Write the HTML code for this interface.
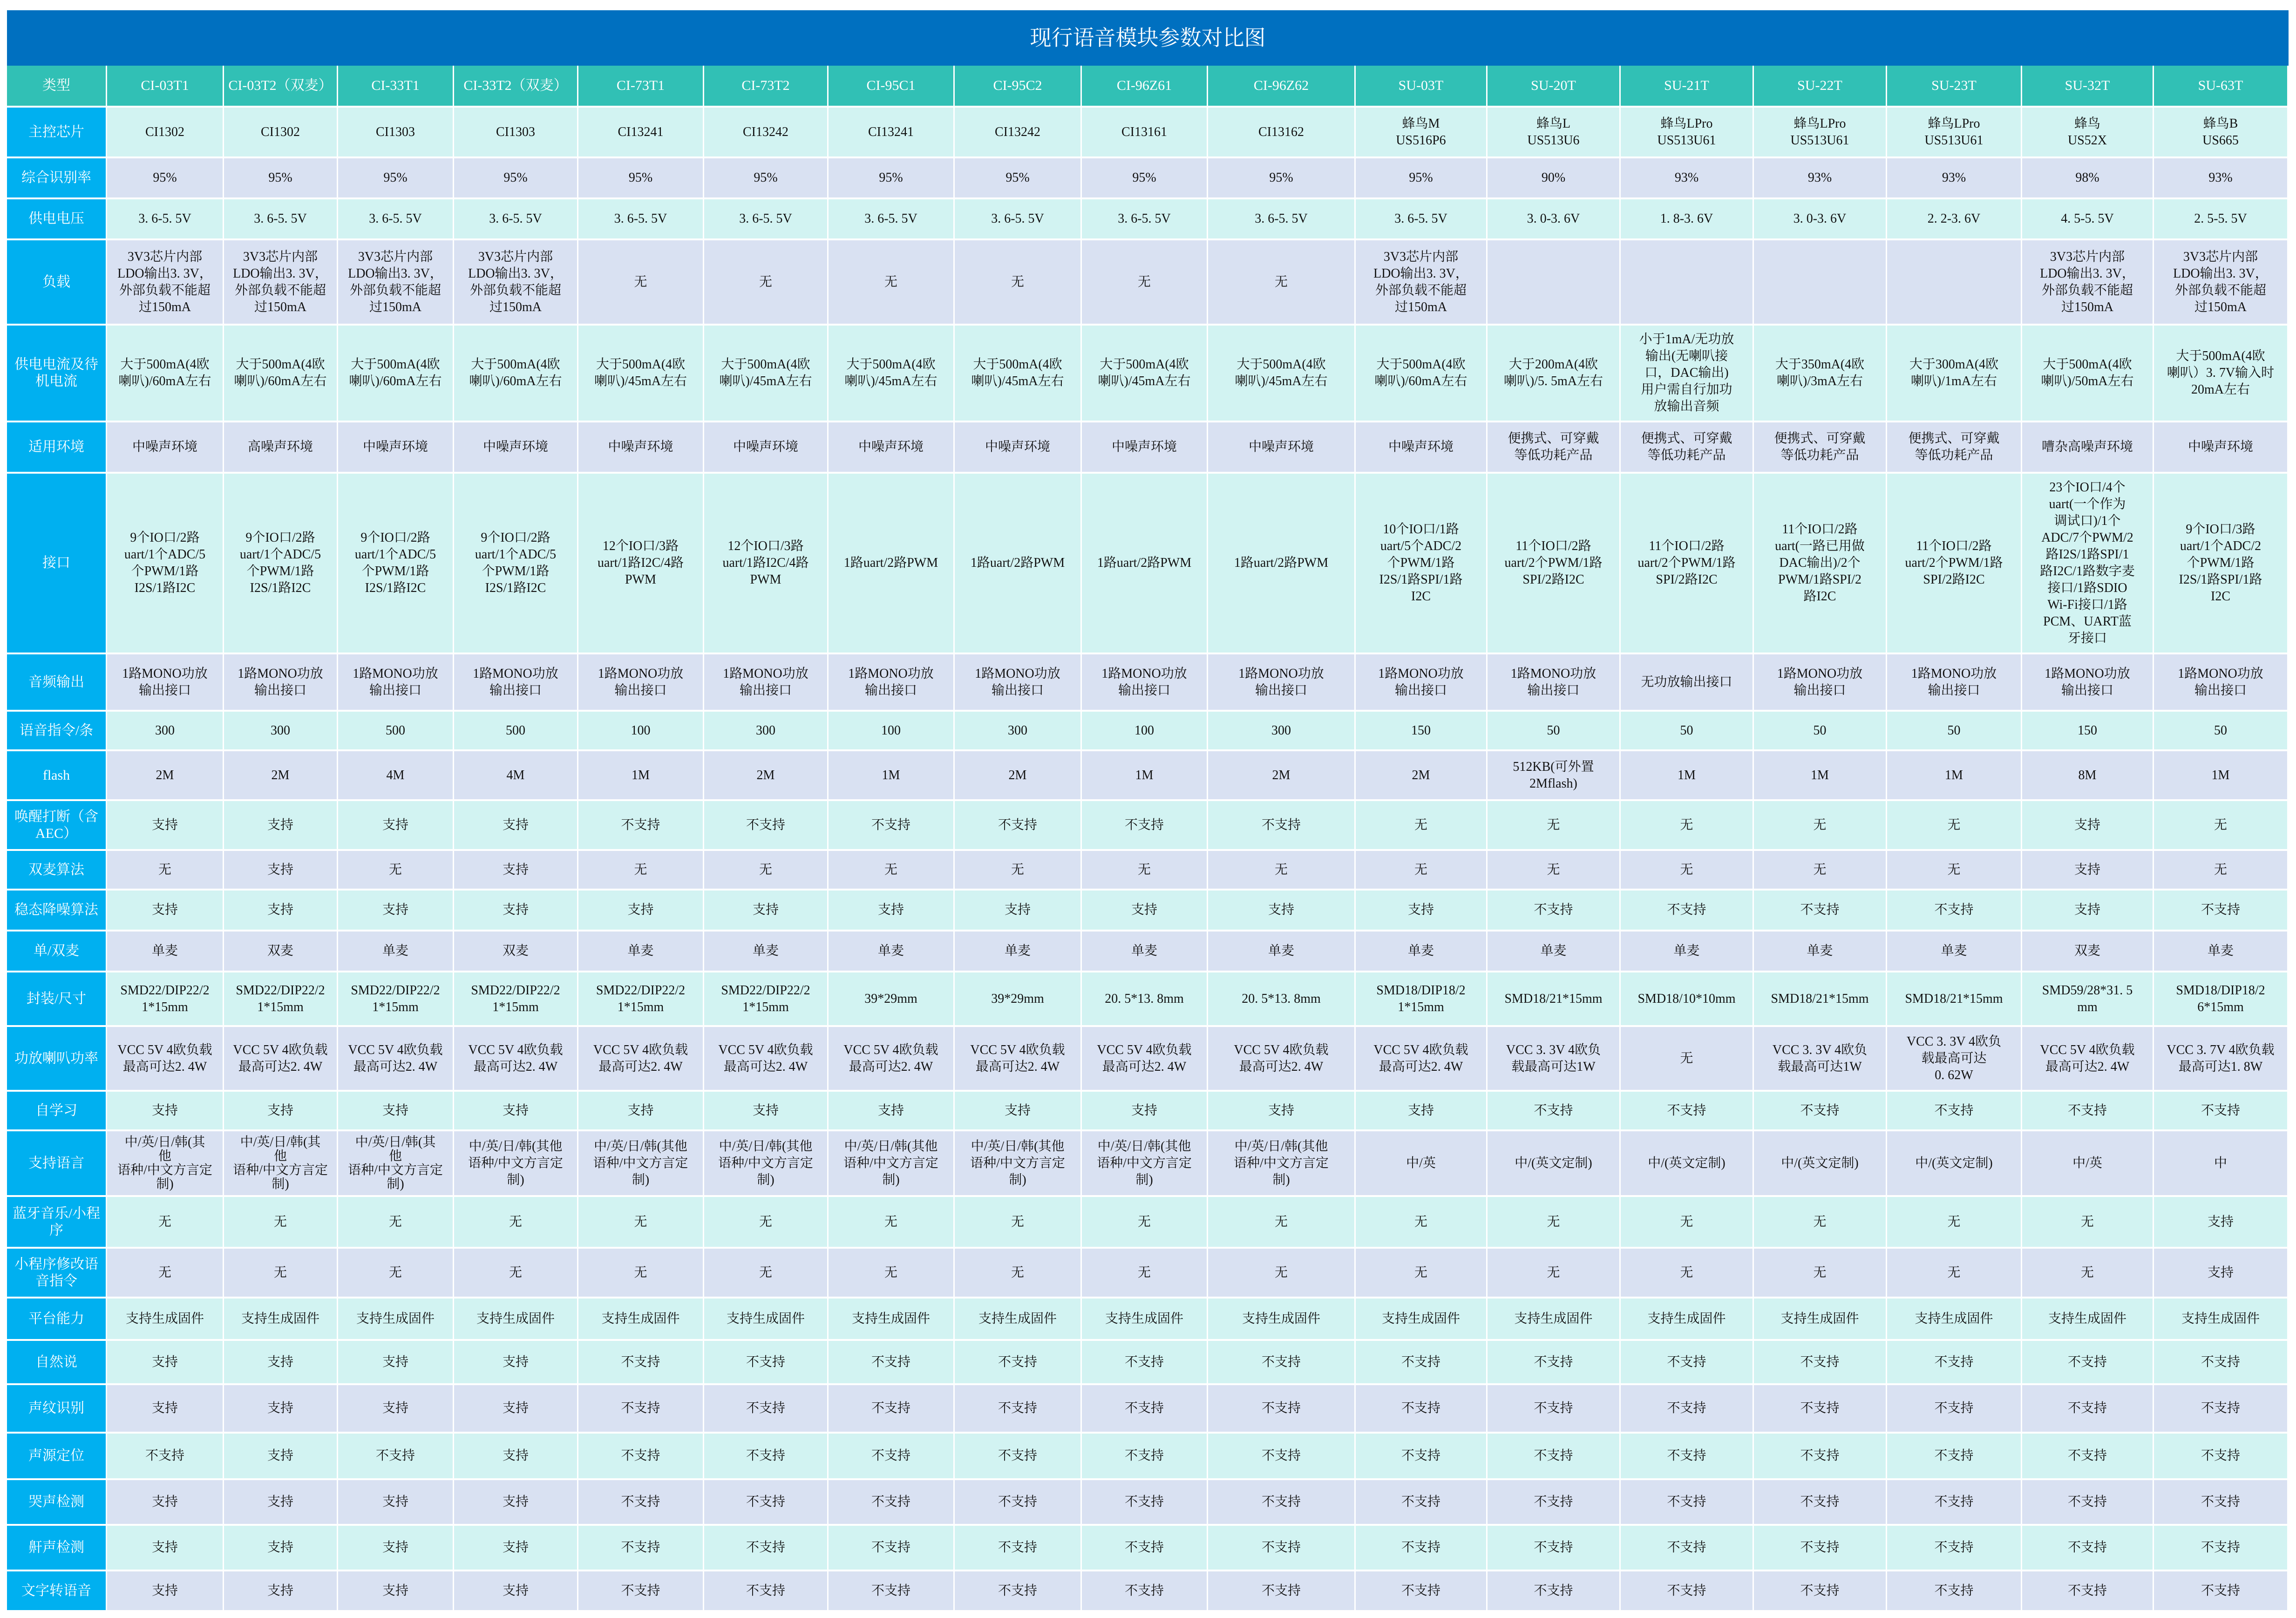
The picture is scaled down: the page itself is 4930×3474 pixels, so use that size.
<!DOCTYPE html>
<html><head><meta charset="utf-8">
<style>
html,body{margin:0;padding:0;background:#fff;}
body{width:4930px;height:3474px;position:relative;overflow:hidden;font-family:"Liberation Serif","Noto Serif CJK SC",serif;}
#title{position:absolute;left:15px;top:22px;width:4899px;height:119px;background:#0070C0;color:#fff;font-size:46px;text-align:center;line-height:119px;font-family:"Liberation Serif","Noto Serif CJK SC",serif;}
table{position:absolute;left:15px;top:141px;width:4899px;border-collapse:separate;border-spacing:0;table-layout:fixed;}
td{border-right:3px solid #fff;border-bottom:4px solid #fff;text-align:center;vertical-align:middle;font-size:28px;line-height:36px;color:#111;padding:0 2px;white-space:nowrap;overflow:hidden;box-sizing:border-box;}
td:first-child{background:#00B0F0;color:#fff;font-size:30px;}
tr.h td{background:#31C0B5;color:#fff;font-size:30px;}
tr.c td{background:#D2F3F2;}
tr.l td{background:#D9E1F2;}
tr.c td:first-child,tr.l td:first-child{background:#00B0F0;}
</style></head><body>
<div id="title">现行语音模块参数对比图</div>
<table>
<colgroup><col style="width:215px"><col style="width:251px"><col style="width:245px"><col style="width:249px"><col style="width:267px"><col style="width:270px"><col style="width:267px"><col style="width:271px"><col style="width:273px"><col style="width:271px"><col style="width:317px"><col style="width:283px"><col style="width:286px"><col style="width:286px"><col style="width:286px"><col style="width:290px"><col style="width:283px"><col style="width:289px"></colgroup>
<tr class="h" style="height:90px"><td>类型</td><td>CI-03T1</td><td>CI-03T2（双麦）</td><td>CI-33T1</td><td>CI-33T2（双麦）</td><td>CI-73T1</td><td>CI-73T2</td><td>CI-95C1</td><td>CI-95C2</td><td>CI-96Z61</td><td>CI-96Z62</td><td>SU-03T</td><td>SU-20T</td><td>SU-21T</td><td>SU-22T</td><td>SU-23T</td><td>SU-32T</td><td>SU-63T</td></tr>
<tr class="c" style="height:109px"><td>主控芯片</td><td>CI1302</td><td>CI1302</td><td>CI1303</td><td>CI1303</td><td>CI13241</td><td>CI13242</td><td>CI13241</td><td>CI13242</td><td>CI13161</td><td>CI13162</td><td>蜂鸟M<br>US516P6</td><td>蜂鸟L<br>US513U6</td><td>蜂鸟LPro<br>US513U61</td><td>蜂鸟LPro<br>US513U61</td><td>蜂鸟LPro<br>US513U61</td><td>蜂鸟<br>US52X</td><td>蜂鸟B<br>US665</td></tr>
<tr class="l" style="height:88px"><td>综合识别率</td><td>95%</td><td>95%</td><td>95%</td><td>95%</td><td>95%</td><td>95%</td><td>95%</td><td>95%</td><td>95%</td><td>95%</td><td>95%</td><td>90%</td><td>93%</td><td>93%</td><td>93%</td><td>98%</td><td>93%</td></tr>
<tr class="c" style="height:88px"><td>供电电压</td><td>3. 6-5. 5V</td><td>3. 6-5. 5V</td><td>3. 6-5. 5V</td><td>3. 6-5. 5V</td><td>3. 6-5. 5V</td><td>3. 6-5. 5V</td><td>3. 6-5. 5V</td><td>3. 6-5. 5V</td><td>3. 6-5. 5V</td><td>3. 6-5. 5V</td><td>3. 6-5. 5V</td><td>3. 0-3. 6V</td><td>1. 8-3. 6V</td><td>3. 0-3. 6V</td><td>2. 2-3. 6V</td><td>4. 5-5. 5V</td><td>2. 5-5. 5V</td></tr>
<tr class="l" style="height:183px"><td>负载</td><td>3V3芯片内部<br>LDO输出3. 3V，<br>外部负载不能超<br>过150mA</td><td>3V3芯片内部<br>LDO输出3. 3V，<br>外部负载不能超<br>过150mA</td><td>3V3芯片内部<br>LDO输出3. 3V，<br>外部负载不能超<br>过150mA</td><td>3V3芯片内部<br>LDO输出3. 3V，<br>外部负载不能超<br>过150mA</td><td>无</td><td>无</td><td>无</td><td>无</td><td>无</td><td>无</td><td>3V3芯片内部<br>LDO输出3. 3V，<br>外部负载不能超<br>过150mA</td><td></td><td></td><td></td><td></td><td>3V3芯片内部<br>LDO输出3. 3V，<br>外部负载不能超<br>过150mA</td><td>3V3芯片内部<br>LDO输出3. 3V，<br>外部负载不能超<br>过150mA</td></tr>
<tr class="c" style="height:208px"><td>供电电流及待<br>机电流</td><td>大于500mA(4欧<br>喇叭)/60mA左右</td><td>大于500mA(4欧<br>喇叭)/60mA左右</td><td>大于500mA(4欧<br>喇叭)/60mA左右</td><td>大于500mA(4欧<br>喇叭)/60mA左右</td><td>大于500mA(4欧<br>喇叭)/45mA左右</td><td>大于500mA(4欧<br>喇叭)/45mA左右</td><td>大于500mA(4欧<br>喇叭)/45mA左右</td><td>大于500mA(4欧<br>喇叭)/45mA左右</td><td>大于500mA(4欧<br>喇叭)/45mA左右</td><td>大于500mA(4欧<br>喇叭)/45mA左右</td><td>大于500mA(4欧<br>喇叭)/60mA左右</td><td>大于200mA(4欧<br>喇叭)/5. 5mA左右</td><td>小于1mA/无功放<br>输出(无喇叭接<br>口，DAC输出)<br>用户需自行加功<br>放输出音频</td><td>大于350mA(4欧<br>喇叭)/3mA左右</td><td>大于300mA(4欧<br>喇叭)/1mA左右</td><td>大于500mA(4欧<br>喇叭)/50mA左右</td><td>大于500mA(4欧<br>喇叭）3. 7V输入时<br>20mA左右</td></tr>
<tr class="l" style="height:110px"><td>适用环境</td><td>中噪声环境</td><td>高噪声环境</td><td>中噪声环境</td><td>中噪声环境</td><td>中噪声环境</td><td>中噪声环境</td><td>中噪声环境</td><td>中噪声环境</td><td>中噪声环境</td><td>中噪声环境</td><td>中噪声环境</td><td>便携式、可穿戴<br>等低功耗产品</td><td>便携式、可穿戴<br>等低功耗产品</td><td>便携式、可穿戴<br>等低功耗产品</td><td>便携式、可穿戴<br>等低功耗产品</td><td>嘈杂高噪声环境</td><td>中噪声环境</td></tr>
<tr class="c" style="height:388px"><td>接口</td><td>9个IO口/2路<br>uart/1个ADC/5<br>个PWM/1路<br>I2S/1路I2C</td><td>9个IO口/2路<br>uart/1个ADC/5<br>个PWM/1路<br>I2S/1路I2C</td><td>9个IO口/2路<br>uart/1个ADC/5<br>个PWM/1路<br>I2S/1路I2C</td><td>9个IO口/2路<br>uart/1个ADC/5<br>个PWM/1路<br>I2S/1路I2C</td><td>12个IO口/3路<br>uart/1路I2C/4路<br>PWM</td><td>12个IO口/3路<br>uart/1路I2C/4路<br>PWM</td><td>1路uart/2路PWM</td><td>1路uart/2路PWM</td><td>1路uart/2路PWM</td><td>1路uart/2路PWM</td><td>10个IO口/1路<br>uart/5个ADC/2<br>个PWM/1路<br>I2S/1路SPI/1路<br>I2C</td><td>11个IO口/2路<br>uart/2个PWM/1路<br>SPI/2路I2C</td><td>11个IO口/2路<br>uart/2个PWM/1路<br>SPI/2路I2C</td><td>11个IO口/2路<br>uart(一路已用做<br>DAC输出)/2个<br>PWM/1路SPI/2<br>路I2C</td><td>11个IO口/2路<br>uart/2个PWM/1路<br>SPI/2路I2C</td><td>23个IO口/4个<br>uart(一个作为<br>调试口)/1个<br>ADC/7个PWM/2<br>路I2S/1路SPI/1<br>路I2C/1路数字麦<br>接口/1路SDIO<br>Wi-Fi接口/1路<br>PCM、UART蓝<br>牙接口</td><td>9个IO口/3路<br>uart/1个ADC/2<br>个PWM/1路<br>I2S/1路SPI/1路<br>I2C</td></tr>
<tr class="l" style="height:123px"><td>音频输出</td><td>1路MONO功放<br>输出接口</td><td>1路MONO功放<br>输出接口</td><td>1路MONO功放<br>输出接口</td><td>1路MONO功放<br>输出接口</td><td>1路MONO功放<br>输出接口</td><td>1路MONO功放<br>输出接口</td><td>1路MONO功放<br>输出接口</td><td>1路MONO功放<br>输出接口</td><td>1路MONO功放<br>输出接口</td><td>1路MONO功放<br>输出接口</td><td>1路MONO功放<br>输出接口</td><td>1路MONO功放<br>输出接口</td><td>无功放输出接口</td><td>1路MONO功放<br>输出接口</td><td>1路MONO功放<br>输出接口</td><td>1路MONO功放<br>输出接口</td><td>1路MONO功放<br>输出接口</td></tr>
<tr class="c" style="height:85px"><td>语音指令/条</td><td>300</td><td>300</td><td>500</td><td>500</td><td>100</td><td>300</td><td>100</td><td>300</td><td>100</td><td>300</td><td>150</td><td>50</td><td>50</td><td>50</td><td>50</td><td>150</td><td>50</td></tr>
<tr class="l" style="height:107px"><td>flash</td><td>2M</td><td>2M</td><td>4M</td><td>4M</td><td>1M</td><td>2M</td><td>1M</td><td>2M</td><td>1M</td><td>2M</td><td>2M</td><td>512KB(可外置<br>2Mflash)</td><td>1M</td><td>1M</td><td>1M</td><td>8M</td><td>1M</td></tr>
<tr class="c" style="height:107px"><td>唤醒打断（含<br>AEC）</td><td>支持</td><td>支持</td><td>支持</td><td>支持</td><td>不支持</td><td>不支持</td><td>不支持</td><td>不支持</td><td>不支持</td><td>不支持</td><td>无</td><td>无</td><td>无</td><td>无</td><td>无</td><td>支持</td><td>无</td></tr>
<tr class="l" style="height:85px"><td>双麦算法</td><td>无</td><td>支持</td><td>无</td><td>支持</td><td>无</td><td>无</td><td>无</td><td>无</td><td>无</td><td>无</td><td>无</td><td>无</td><td>无</td><td>无</td><td>无</td><td>支持</td><td>无</td></tr>
<tr class="c" style="height:88px"><td>稳态降噪算法</td><td>支持</td><td>支持</td><td>支持</td><td>支持</td><td>支持</td><td>支持</td><td>支持</td><td>支持</td><td>支持</td><td>支持</td><td>支持</td><td>不支持</td><td>不支持</td><td>不支持</td><td>不支持</td><td>支持</td><td>不支持</td></tr>
<tr class="l" style="height:88px"><td>单/双麦</td><td>单麦</td><td>双麦</td><td>单麦</td><td>双麦</td><td>单麦</td><td>单麦</td><td>单麦</td><td>单麦</td><td>单麦</td><td>单麦</td><td>单麦</td><td>单麦</td><td>单麦</td><td>单麦</td><td>单麦</td><td>双麦</td><td>单麦</td></tr>
<tr class="c" style="height:117px"><td>封装/尺寸</td><td>SMD22/DIP22/2<br>1*15mm</td><td>SMD22/DIP22/2<br>1*15mm</td><td>SMD22/DIP22/2<br>1*15mm</td><td>SMD22/DIP22/2<br>1*15mm</td><td>SMD22/DIP22/2<br>1*15mm</td><td>SMD22/DIP22/2<br>1*15mm</td><td>39*29mm</td><td>39*29mm</td><td>20. 5*13. 8mm</td><td>20. 5*13. 8mm</td><td>SMD18/DIP18/2<br>1*15mm</td><td>SMD18/21*15mm</td><td>SMD18/10*10mm</td><td>SMD18/21*15mm</td><td>SMD18/21*15mm</td><td>SMD59/28*31. 5<br>mm</td><td>SMD18/DIP18/2<br>6*15mm</td></tr>
<tr class="l" style="height:139px"><td>功放喇叭功率</td><td>VCC 5V 4欧负载<br>最高可达2. 4W</td><td>VCC 5V 4欧负载<br>最高可达2. 4W</td><td>VCC 5V 4欧负载<br>最高可达2. 4W</td><td>VCC 5V 4欧负载<br>最高可达2. 4W</td><td>VCC 5V 4欧负载<br>最高可达2. 4W</td><td>VCC 5V 4欧负载<br>最高可达2. 4W</td><td>VCC 5V 4欧负载<br>最高可达2. 4W</td><td>VCC 5V 4欧负载<br>最高可达2. 4W</td><td>VCC 5V 4欧负载<br>最高可达2. 4W</td><td>VCC 5V 4欧负载<br>最高可达2. 4W</td><td>VCC 5V 4欧负载<br>最高可达2. 4W</td><td>VCC 3. 3V 4欧负<br>载最高可达1W</td><td>无</td><td>VCC 3. 3V 4欧负<br>载最高可达1W</td><td>VCC 3. 3V 4欧负<br>载最高可达<br>0. 62W</td><td>VCC 5V 4欧负载<br>最高可达2. 4W</td><td>VCC 3. 7V 4欧负载<br>最高可达1. 8W</td></tr>
<tr class="c" style="height:85px"><td>自学习</td><td>支持</td><td>支持</td><td>支持</td><td>支持</td><td>支持</td><td>支持</td><td>支持</td><td>支持</td><td>支持</td><td>支持</td><td>支持</td><td>不支持</td><td>不支持</td><td>不支持</td><td>不支持</td><td>不支持</td><td>不支持</td></tr>
<tr class="l" style="height:141px"><td>支持语言</td><td style="line-height:30px">中/英/日/韩(其<br>他<br>语种/中文方言定<br>制)</td><td style="line-height:30px">中/英/日/韩(其<br>他<br>语种/中文方言定<br>制)</td><td style="line-height:30px">中/英/日/韩(其<br>他<br>语种/中文方言定<br>制)</td><td>中/英/日/韩(其他<br>语种/中文方言定<br>制)</td><td>中/英/日/韩(其他<br>语种/中文方言定<br>制)</td><td>中/英/日/韩(其他<br>语种/中文方言定<br>制)</td><td>中/英/日/韩(其他<br>语种/中文方言定<br>制)</td><td>中/英/日/韩(其他<br>语种/中文方言定<br>制)</td><td>中/英/日/韩(其他<br>语种/中文方言定<br>制)</td><td>中/英/日/韩(其他<br>语种/中文方言定<br>制)</td><td>中/英</td><td>中/(英文定制)</td><td>中/(英文定制)</td><td>中/(英文定制)</td><td>中/(英文定制)</td><td>中/英</td><td>中</td></tr>
<tr class="c" style="height:111px"><td>蓝牙音乐/小程<br>序</td><td>无</td><td>无</td><td>无</td><td>无</td><td>无</td><td>无</td><td>无</td><td>无</td><td>无</td><td>无</td><td>无</td><td>无</td><td>无</td><td>无</td><td>无</td><td>无</td><td>支持</td></tr>
<tr class="l" style="height:107px"><td>小程序修改语<br>音指令</td><td>无</td><td>无</td><td>无</td><td>无</td><td>无</td><td>无</td><td>无</td><td>无</td><td>无</td><td>无</td><td>无</td><td>无</td><td>无</td><td>无</td><td>无</td><td>无</td><td>支持</td></tr>
<tr class="c" style="height:91px"><td>平台能力</td><td>支持生成固件</td><td>支持生成固件</td><td>支持生成固件</td><td>支持生成固件</td><td>支持生成固件</td><td>支持生成固件</td><td>支持生成固件</td><td>支持生成固件</td><td>支持生成固件</td><td>支持生成固件</td><td>支持生成固件</td><td>支持生成固件</td><td>支持生成固件</td><td>支持生成固件</td><td>支持生成固件</td><td>支持生成固件</td><td>支持生成固件</td></tr>
<tr class="c" style="height:95px"><td>自然说</td><td>支持</td><td>支持</td><td>支持</td><td>支持</td><td>不支持</td><td>不支持</td><td>不支持</td><td>不支持</td><td>不支持</td><td>不支持</td><td>不支持</td><td>不支持</td><td>不支持</td><td>不支持</td><td>不支持</td><td>不支持</td><td>不支持</td></tr>
<tr class="l" style="height:104px"><td>声纹识别</td><td>支持</td><td>支持</td><td>支持</td><td>支持</td><td>不支持</td><td>不支持</td><td>不支持</td><td>不支持</td><td>不支持</td><td>不支持</td><td>不支持</td><td>不支持</td><td>不支持</td><td>不支持</td><td>不支持</td><td>不支持</td><td>不支持</td></tr>
<tr class="c" style="height:100px"><td>声源定位</td><td>不支持</td><td>支持</td><td>不支持</td><td>支持</td><td>不支持</td><td>不支持</td><td>不支持</td><td>不支持</td><td>不支持</td><td>不支持</td><td>不支持</td><td>不支持</td><td>不支持</td><td>不支持</td><td>不支持</td><td>不支持</td><td>不支持</td></tr>
<tr class="l" style="height:98px"><td>哭声检测</td><td>支持</td><td>支持</td><td>支持</td><td>支持</td><td>不支持</td><td>不支持</td><td>不支持</td><td>不支持</td><td>不支持</td><td>不支持</td><td>不支持</td><td>不支持</td><td>不支持</td><td>不支持</td><td>不支持</td><td>不支持</td><td>不支持</td></tr>
<tr class="c" style="height:98px"><td>鼾声检测</td><td>支持</td><td>支持</td><td>支持</td><td>支持</td><td>不支持</td><td>不支持</td><td>不支持</td><td>不支持</td><td>不支持</td><td>不支持</td><td>不支持</td><td>不支持</td><td>不支持</td><td>不支持</td><td>不支持</td><td>不支持</td><td>不支持</td></tr>
<tr class="l" style="height:83px"><td style="border-bottom:0">文字转语音</td><td style="border-bottom:0">支持</td><td style="border-bottom:0">支持</td><td style="border-bottom:0">支持</td><td style="border-bottom:0">支持</td><td style="border-bottom:0">不支持</td><td style="border-bottom:0">不支持</td><td style="border-bottom:0">不支持</td><td style="border-bottom:0">不支持</td><td style="border-bottom:0">不支持</td><td style="border-bottom:0">不支持</td><td style="border-bottom:0">不支持</td><td style="border-bottom:0">不支持</td><td style="border-bottom:0">不支持</td><td style="border-bottom:0">不支持</td><td style="border-bottom:0">不支持</td><td style="border-bottom:0">不支持</td><td style="border-bottom:0">不支持</td></tr>
</table>
</body></html>
